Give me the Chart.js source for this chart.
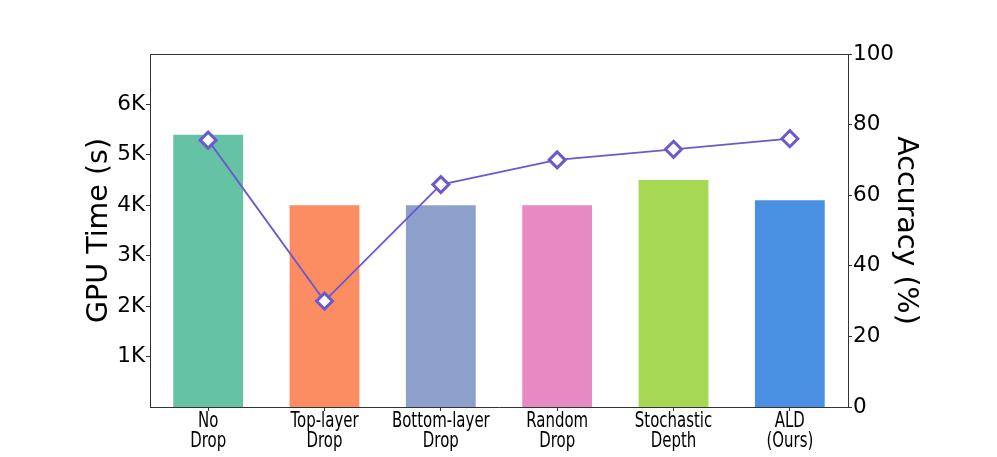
<!DOCTYPE html>
<html>
<head>
<meta charset="utf-8">
<script src="https://cdn.jsdelivr.net/npm/chart.js@4/dist/chart.umd.min.js"></script>
<style>
  html, body { margin: 0; padding: 0; background: #fff; }
  #wrap { width: 997px; height: 457px; }
</style>
</head>
<body>
<div id="wrap"><canvas id="chart"></canvas></div>
<script>
// ── data ──
const categories = [['No', 'Drop'], ['Top-layer', 'Drop'], ['Bottom-layer', 'Drop'],
  ['Random', 'Drop'], ['Stochastic', 'Depth'], ['ALD', '(Ours)']];
const gpuTime   = [5400, 4000, 4000, 4000, 4500, 4100];
const accuracy  = [75.6, 30, 63, 70, 73, 76];
const barColors = ['#66c2a5', '#fc8d62', '#8da0cb', '#e78ac3', '#a6d854', '#4a90e2'];
const leftTicks  = [1000, 2000, 3000, 4000, 5000, 6000];
const rightTicks = [0, 20, 40, 60, 80, 100];

const FONT = 'DejaVu Sans';
const INK  = '#000';
const LINE = '#6a5acd';

// top spine (matplotlib box)
const frame = {
  id: 'frame',
  afterDraw(chart) {
    const { ctx, chartArea: a } = chart;
    ctx.save();
    ctx.strokeStyle = '#333';
    ctx.lineWidth = 1;
    ctx.beginPath();
    ctx.moveTo(a.left, a.top + 0.5);
    ctx.lineTo(a.right, a.top + 0.5);
    ctx.stroke();
    ctx.restore();
  }
};

// x labels in the reference are narrow: draw them condensed
const narrowLabels = {
  id: 'narrowLabels',
  afterDraw(chart) {
    const { ctx, scales: { x } } = chart;
    ctx.save();
    ctx.font = '20.5px ' + FONT;
    ctx.fillStyle = INK;
    ctx.textAlign = 'center';
    ctx.textBaseline = 'alphabetic';
    categories.forEach((lines, i) => {
      const px = x.getPixelForTick(i);
      lines.forEach((t, j) => {
        ctx.save();
        ctx.translate(px, x.top + 20 + j * 20);
        ctx.scale(0.73, 1);
        ctx.fillText(t, 0, 0);
        ctx.restore();
      });
    });
    ctx.restore();
  }
};

new Chart(document.getElementById('chart'), {
  data: {
    labels: categories,
    datasets: [
      { type: 'line', label: 'Accuracy', data: accuracy, yAxisID: 'y2', order: 0,
        borderColor: LINE, borderWidth: 1.8, pointStyle: 'rectRot', pointRadius: 8,
        pointBackgroundColor: '#fff', pointBorderColor: LINE, pointBorderWidth: 3,
        tension: 0, fill: false },
      { type: 'bar', label: 'GPU Time', data: gpuTime, yAxisID: 'y', order: 1,
        backgroundColor: barColors, barPercentage: 0.6, categoryPercentage: 1.0 }
    ]
  },
  options: {
    responsive: true, maintainAspectRatio: false, animation: false,
    layout: { padding: { top: 54, left: 0, right: 0, bottom: 0 } },
    plugins: { legend: { display: false }, tooltip: { enabled: false } },
    scales: {
      x: {
        offset: true,
        grid: { display: true, offset: false, drawOnChartArea: false, drawTicks: true, tickLength: 4, color: '#333' },
        border: { display: true, color: '#333', width: 1 },
        ticks: { display: false, autoSkip: false },
        afterFit: s => { s.height = 50; }
      },
      y: {
        position: 'left', min: 0, max: 7000,
        afterBuildTicks: s => { s.ticks = leftTicks.map(v => ({ value: v })); },
        grid: { display: true, drawOnChartArea: false, drawTicks: true, tickLength: 4, color: '#333' },
        border: { display: true, color: '#333', width: 1 },
        ticks: { color: INK, font: { family: FONT, size: 21.5 }, padding: 1,
          callback: v => (v / 1000) + 'K' },
        title: { display: true, text: 'GPU Time (s)', color: INK,
          font: { family: FONT, size: 28.5 }, padding: { top: 82 } },
        afterFit: s => { s.width = 150; }
      },
      y2: {
        position: 'right', min: 0, max: 100,
        afterBuildTicks: s => { s.ticks = rightTicks.map(v => ({ value: v })); },
        grid: { display: true, drawOnChartArea: false, drawTicks: true, tickLength: 4, color: '#333' },
        border: { display: true, color: '#333', width: 1 },
        ticks: { color: INK, font: { family: FONT, size: 21.5 }, padding: 1 },
        title: { display: true, text: 'Accuracy (%)', color: INK,
          font: { family: FONT, size: 28.5 }, padding: { top: 74 } },
        afterFit: s => { s.width = 149; }
      }
    }
  },
  plugins: [frame, narrowLabels]
});
</script>
</body>
</html>
